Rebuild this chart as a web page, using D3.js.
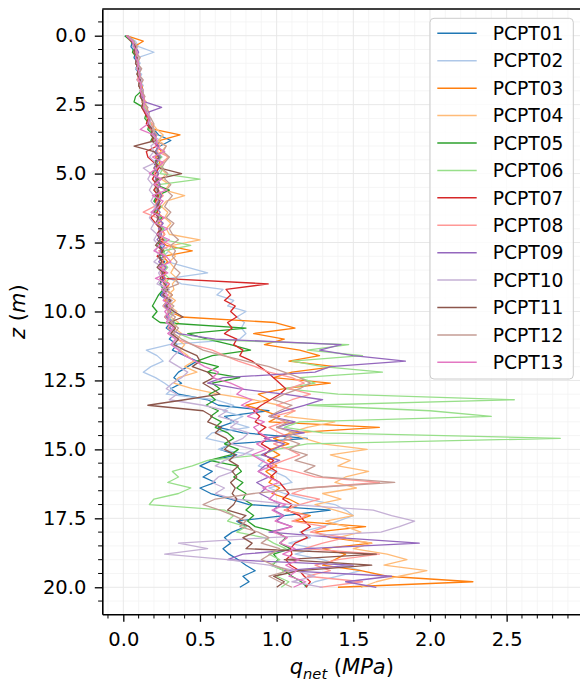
<!DOCTYPE html>
<html>
<head>
<meta charset="utf-8">
<script src="https://cdn.jsdelivr.net/npm/d3@7"></script>
<style>
  html, body { margin: 0; padding: 0; background: #fff; }
  svg { display: block; font-family: "DejaVu Sans", sans-serif; }
</style>
</head>
<body>
<svg id="chart" width="580" height="684"></svg>
<script>
// Depth of each reading (m), shared by all soundings
const depth = [0,0.2,0.4,0.6,0.8,1,1.2,1.4,1.6,1.8,2,2.2,2.4,2.6,2.8,3,3.2,3.4,3.6,3.8,
  4,4.2,4.4,4.6,4.8,5,5.2,5.4,5.6,5.8,6,6.2,6.4,6.6,6.8,7,7.2,7.4,7.6,7.8,
  8,8.2,8.4,8.6,8.8,9,9.2,9.4,9.6,9.8,10,10.2,10.4,10.6,10.8,11,11.2,11.4,11.6,11.8,
  12,12.2,12.4,12.6,12.8,13,13.2,13.4,13.6,13.8,14,14.2,14.4,14.6,14.8,15,15.2,15.4,15.6,15.8,
  16,16.2,16.4,16.6,16.8,17,17.2,17.4,17.6,17.8,18,18.2,18.4,18.6,18.8,19,19.2,19.4,19.6,19.8,20];

// Net cone resistance q_net (MPa) per sounding, one value per depth
const pcpt01 = [0.01,0.06,0.05,0.08,0.07,0.10,0.08,0.11,0.09,0.12,0.11,0.13,0.12,0.15,0.14,0.17,0.16,0.20,0.23,0.31,
  0.24,0.21,0.25,0.20,0.23,0.19,0.22,0.24,0.20,0.23,0.21,0.25,0.20,0.24,0.22,0.26,0.23,0.27,0.24,0.26,
  0.23,0.27,0.24,0.26,0.25,0.28,
  0.27,0.24,0.29,0.26,0.30,0.27,0.31,0.28,0.33,0.30,0.35,0.32,0.40,0.48,0.42,0.36,0.33,0.38,0.31,0.36,
  0.55,0.62,0.95,0.66,0.72,0.62,0.78,1.20,0.70,0.63,0.74,0.58,0.50,0.58,0.52,0.60,0.50,0.57,0.70,0.82,
  1.35,1.05,0.74,0.80,0.71,0.66,0.70,0.65,0.69,0.75,0.80,0.86,0.78,0.82,0.76];
const pcpt02 = [0.03,0.08,0.10,0.20,0.09,0.11,0.08,0.12,0.10,0.13,0.11,0.14,0.12,0.16,0.14,0.18,0.16,0.21,0.19,0.24,
  0.21,0.26,0.22,0.20,0.25,0.22,0.19,0.23,0.21,0.24,0.20,0.23,0.21,0.25,0.22,0.27,0.24,0.28,0.25,0.30,
  0.26,0.29,0.42,0.55,0.30,0.38,
  0.65,0.61,0.72,0.68,0.80,0.74,0.79,0.77,0.80,0.76,0.30,0.15,0.22,0.26,0.18,0.13,0.21,0.27,0.32,0.28,
  0.60,0.72,0.65,0.78,0.70,0.82,0.58,0.54,0.70,0.62,0.85,0.92,0.88,0.98,1.06,1.10,0.95,1.05,1.20,1.38,
  1.45,1.50,1.40,1.30,1.15,1.22,1.08,1.25,1.12,1.30,1.42,1.55,1.40,1.25,1.18];
const pcpt03 = [0.02,0.13,0.07,0.09,0.08,0.10,0.09,0.11,0.10,0.12,0.13,0.12,0.14,0.13,0.16,0.15,0.18,0.20,0.37,0.24,
  0.22,0.25,0.21,0.24,0.20,0.23,0.21,0.24,0.22,0.25,0.21,0.24,0.22,0.26,0.23,0.25,0.27,0.24,0.28,0.45,
  0.26,0.29,0.25,0.28,0.26,0.30,
  0.28,0.32,0.27,0.31,0.30,0.38,0.99,1.12,0.85,1.05,0.92,1.15,1.28,1.08,1.38,1.10,0.98,1.35,1.05,0.88,
  0.95,0.80,0.92,1.02,0.95,1.67,1.10,0.98,1.08,0.96,1.02,0.94,1.00,0.93,0.98,0.95,1.02,0.97,1.08,1.15,
  1.05,1.22,1.12,1.58,1.25,1.35,1.62,1.30,1.45,1.38,1.30,1.55,1.72,2.28,1.40];
const pcpt04 = [0.02,0.06,0.08,0.07,0.10,0.09,0.11,0.10,0.12,0.11,0.13,0.12,0.15,0.14,0.17,0.15,0.19,0.22,0.26,0.23,
  0.28,0.25,0.29,0.26,0.24,0.28,0.25,0.30,0.27,0.40,0.28,0.25,0.29,0.27,0.31,0.28,0.30,0.50,0.32,0.29,
  0.34,0.30,0.33,0.31,0.35,0.32,
  0.33,0.29,0.34,0.30,0.35,0.31,0.36,0.33,0.38,0.35,0.40,0.37,0.42,0.46,0.40,0.48,0.36,0.33,0.45,0.62,
  0.85,1.02,1.12,1.05,1.38,1.20,1.08,1.18,1.30,1.59,1.35,1.48,1.40,1.60,1.45,1.38,1.52,1.30,1.42,1.25,
  1.38,1.50,1.32,1.45,1.55,1.40,1.62,1.50,1.72,1.85,1.70,1.98,1.80,1.65,1.55];
const pcpt05 = [0.01,0.05,0.07,0.06,0.09,0.08,0.10,0.09,0.11,0.10,0.12,0.08,0.07,0.13,0.15,0.14,0.17,0.16,0.20,0.18,
  0.23,0.21,0.24,0.20,0.22,0.19,0.23,0.21,0.30,0.22,0.20,0.24,0.21,0.25,0.22,0.26,0.23,0.25,0.22,0.27,
  0.24,0.26,0.23,0.27,0.25,0.24,
  0.26,0.23,0.21,0.19,0.22,0.19,0.24,0.80,0.42,0.55,0.70,0.83,0.58,0.48,0.62,0.55,0.76,0.58,0.63,0.56,
  0.60,0.54,0.62,0.57,0.64,0.60,0.68,0.72,0.66,0.75,0.70,0.56,0.74,0.77,0.72,0.78,0.74,0.80,0.78,0.84,
  0.80,0.85,0.81,0.86,1.00,1.06,1.02,1.09,0.98,1.01,0.97,1.05,1.10,1.16,1.20];
const pcpt06 = [0.03,0.07,0.06,0.09,0.08,0.10,0.09,0.11,0.10,0.12,0.11,0.13,0.12,0.14,0.16,0.15,0.18,0.17,0.21,0.19,
  0.24,0.21,0.25,0.22,0.26,0.24,0.50,0.23,0.20,0.24,0.22,0.25,0.21,0.24,0.22,0.26,0.24,0.27,0.44,0.26,
  0.28,0.25,0.29,0.26,0.30,0.27,
  0.29,0.26,0.31,0.28,0.33,0.29,0.34,0.30,0.36,0.45,1.47,1.20,1.56,1.10,1.30,1.69,1.15,1.25,1.05,1.40,
  2.55,1.20,2.00,2.40,1.15,1.05,1.30,2.85,1.20,1.00,0.90,0.55,0.45,0.32,0.36,0.29,0.44,0.36,0.20,0.17,
  0.66,0.72,0.68,0.80,0.74,0.92,0.98,1.06,0.95,1.02,0.96,1.05,1.00,1.08,1.03];
const pcpt07 = [0.02,0.06,0.08,0.07,0.09,0.08,0.10,0.09,0.11,0.10,0.12,0.11,0.13,0.12,0.14,0.16,0.15,0.18,0.20,0.19,
  0.22,0.15,0.16,0.20,0.23,0.21,0.19,0.22,0.20,0.23,0.21,0.24,0.22,0.18,0.21,0.24,0.22,0.26,0.23,0.25,
  0.22,0.26,0.24,0.27,0.25,0.945,
  0.67,0.70,0.66,0.73,0.70,0.74,0.68,0.71,0.66,0.74,0.72,0.78,0.76,0.84,0.89,0.94,0.98,1.02,1.06,1.02,
  0.96,0.90,0.85,0.89,0.86,0.93,0.88,0.94,0.90,0.96,0.92,0.98,0.94,1.00,0.96,1.02,1.05,1.08,1.04,1.10,
  1.07,1.15,1.18,1.22,1.16,1.20,1.12,1.09,1.10,1.06,1.09,1.15,1.18,1.22,1.19];
const pcpt08 = [0.02,0.05,0.09,0.07,0.10,0.08,0.11,0.10,0.09,0.12,0.11,0.14,0.12,0.15,0.17,0.16,0.19,0.18,0.22,0.20,
  0.24,0.22,0.30,0.25,0.22,0.20,0.24,0.21,0.23,0.26,0.22,0.20,0.13,0.22,0.25,0.23,0.27,0.24,0.31,0.23,
  0.28,0.25,0.27,0.24,0.28,0.26,
  0.28,0.25,0.29,0.26,0.30,0.27,0.31,0.29,0.33,0.35,0.45,0.58,0.66,0.75,0.86,0.95,1.10,1.18,1.08,1.22,
  1.10,1.00,1.12,0.98,1.05,0.95,1.02,1.10,0.98,1.08,1.15,1.05,0.96,1.12,1.25,1.67,1.20,1.10,1.28,1.15,
  1.05,1.20,1.10,1.32,1.22,1.45,1.30,1.18,1.67,1.40,1.25,1.35,1.20,1.56,1.28];
const pcpt09 = [0.03,0.06,0.08,0.10,0.08,0.09,0.11,0.10,0.12,0.11,0.13,0.12,0.14,0.25,0.15,0.17,0.16,0.19,0.21,0.20,
  0.23,0.21,0.24,0.22,0.20,0.23,0.21,0.24,0.22,0.25,0.23,0.21,0.24,0.22,0.26,0.23,0.25,0.22,0.27,0.24,
  0.26,0.23,0.28,0.25,0.27,0.24,
  0.28,0.25,0.30,0.27,0.31,0.28,0.33,0.30,0.36,0.60,1.42,1.28,1.50,1.84,1.35,1.25,0.65,0.55,0.75,1.05,
  1.30,1.18,1.05,0.95,1.12,1.00,1.18,0.92,1.05,0.98,0.90,1.02,0.92,0.88,0.95,0.87,0.93,0.89,0.96,1.02,
  0.98,1.05,1.00,1.10,0.95,1.40,1.93,1.20,0.78,0.68,1.50,1.05,1.75,1.45,1.65];
const pcpt10 = [0.02,0.07,0.06,0.09,0.10,0.08,0.11,0.09,0.12,0.10,0.13,0.11,0.14,0.13,0.16,0.18,0.17,0.20,0.19,0.22,
  0.18,0.20,0.17,0.21,0.13,0.18,0.16,0.19,0.17,0.20,0.18,0.21,0.19,0.17,0.20,0.18,0.22,0.20,0.23,0.21,
  0.24,0.20,0.26,0.23,0.25,0.22,
  0.30,0.27,0.32,0.29,0.34,0.31,0.28,0.33,0.30,0.35,0.32,0.37,0.33,0.30,0.36,0.42,0.38,0.32,0.28,0.35,
  0.30,0.52,0.68,0.62,0.75,0.70,0.82,0.78,0.70,0.85,0.78,0.66,0.60,0.72,0.62,0.58,0.66,0.60,0.72,1.10,
  1.63,1.75,1.90,1.80,1.68,0.95,0.36,0.55,0.27,0.68,0.95,1.12,1.25,1.10,1.30];
const pcpt11 = [0.02,0.05,0.08,0.07,0.09,0.08,0.10,0.09,0.11,0.10,0.12,0.11,0.13,0.12,0.15,0.17,0.16,0.19,0.18,0.21,
  0.07,0.20,0.23,0.21,0.24,0.38,0.22,0.20,0.23,0.21,0.24,0.22,0.20,0.23,0.21,0.25,0.22,0.24,0.21,0.26,
  0.23,0.25,0.22,0.26,0.24,0.27,
  0.29,0.26,0.31,0.28,0.33,0.39,0.30,0.34,0.31,0.36,0.33,0.40,0.48,0.50,0.45,0.55,0.59,0.52,0.58,0.63,
  0.40,0.16,0.52,0.58,0.55,0.64,0.60,0.67,0.70,0.66,0.73,0.69,0.75,0.71,0.74,0.70,0.73,0.71,0.74,0.72,
  0.68,0.80,0.75,0.82,0.86,0.78,0.84,0.80,1.65,1.05,1.62,1.15,0.98,1.05,1.00];
const pcpt12 = [0.03,0.07,0.09,0.08,0.11,0.09,0.12,0.10,0.13,0.11,0.12,0.14,0.13,0.16,0.15,0.18,0.20,0.19,0.22,0.20,
  0.28,0.26,0.30,0.27,0.25,0.29,0.27,0.31,0.28,0.32,0.29,0.27,0.31,0.28,0.33,0.30,0.32,0.36,0.31,0.34,
  0.32,0.35,0.33,0.37,0.34,0.36,
  0.27,0.32,0.28,0.33,0.29,0.34,0.31,0.36,0.33,0.38,0.45,0.52,0.65,0.80,0.95,1.05,1.15,1.22,1.15,1.05,
  0.98,1.10,1.02,0.95,1.08,1.00,1.12,1.05,1.15,1.08,1.20,1.12,1.25,1.18,1.30,1.77,1.20,0.85,0.60,0.52,
  0.63,0.72,0.80,0.76,0.88,0.95,0.90,1.02,0.96,0.90,0.98,1.08,0.95,1.02,1.10];
const pcpt13 = [0.02,0.06,0.07,0.09,0.08,0.10,0.09,0.11,0.10,0.12,0.11,0.13,0.14,0.13,0.15,0.17,0.16,0.11,0.20,0.22,
  0.21,0.27,0.19,0.26,0.22,0.17,0.25,0.20,0.28,0.19,0.26,0.23,0.18,0.27,0.21,0.29,0.22,0.30,0.24,0.20,
  0.28,0.31,0.23,0.29,0.21,0.30,
  0.25,0.29,0.26,0.31,0.27,0.30,0.28,0.33,0.29,0.34,0.31,0.36,0.40,0.47,0.53,0.62,0.58,0.70,0.78,0.74,
  0.84,0.77,0.88,0.81,0.92,0.85,0.89,0.95,0.87,0.93,0.84,0.90,0.97,0.88,0.94,1.02,0.91,0.99,0.95,1.06,
  0.97,1.04,0.99,1.10,0.98,1.07,1.02,1.12,1.04,1.15,1.06,1.13,1.08,1.19,1.11];

const seriesNames = ["PCPT01","PCPT02","PCPT03","PCPT04","PCPT05","PCPT06","PCPT07",
                     "PCPT08","PCPT09","PCPT10","PCPT11","PCPT12","PCPT13"];
const seriesValues = [pcpt01,pcpt02,pcpt03,pcpt04,pcpt05,pcpt06,pcpt07,
                      pcpt08,pcpt09,pcpt10,pcpt11,pcpt12,pcpt13];
const seriesColors = ["#1f77b4","#aec7e8","#ff7f0e","#ffbb78","#2ca02c","#98df8a","#d62728",
                      "#ff9896","#9467bd","#c5b0d5","#8c564b","#c49c94","#e377c2"];

const xMajorTicks = [0, 0.5, 1.0, 1.5, 2.0, 2.5];
const yMajorTicks = [0, 2.5, 5.0, 7.5, 10.0, 12.5, 15.0, 17.5, 20.0];

// Plot frame
const plot = { left: 102.3, top: 9, right: 583.3, bottom: 614.3 };

const x = d3.scaleLinear().domain([-0.137, 3.0]).range([plot.left, plot.right]);
const y = d3.scaleLinear().domain([-0.968, 20.98]).range([plot.top, plot.bottom]);

const xMinor = d3.range(-1, 30).map(i => i / 10).filter(v => Math.abs(v * 2 - Math.round(v * 2)) > 1e-6);
const yMinor = d3.range(-1, 42).map(i => i / 2).filter(v => Math.abs(v / 2.5 - Math.round(v / 2.5)) > 1e-6);

const svg = d3.select("#chart");
svg.append("rect").attr("width", 580).attr("height", 684).attr("fill", "#fff");

svg.append("defs").append("clipPath").attr("id", "plotclip")
  .append("rect")
  .attr("x", plot.left).attr("y", plot.top)
  .attr("width", plot.right - plot.left).attr("height", plot.bottom - plot.top);

// Grid: minor first, then major
const grid = svg.append("g");
grid.selectAll("line.vx-minor").data(xMinor).join("line")
  .attr("x1", d => x(d)).attr("x2", d => x(d))
  .attr("y1", plot.top).attr("y2", plot.bottom)
  .attr("stroke", "#f2f2f2").attr("stroke-width", 0.8);
grid.selectAll("line.hy-minor").data(yMinor).join("line")
  .attr("y1", d => y(d)).attr("y2", d => y(d))
  .attr("x1", plot.left).attr("x2", plot.right)
  .attr("stroke", "#f2f2f2").attr("stroke-width", 0.8);
grid.selectAll("line.vx-major").data(xMajorTicks.concat([3.0])).join("line")
  .attr("x1", d => x(d)).attr("x2", d => x(d))
  .attr("y1", plot.top).attr("y2", plot.bottom)
  .attr("stroke", "#e8e8e8").attr("stroke-width", 1);
grid.selectAll("line.hy-major").data(yMajorTicks).join("line")
  .attr("y1", d => y(d)).attr("y2", d => y(d))
  .attr("x1", plot.left).attr("x2", plot.right)
  .attr("stroke", "#e8e8e8").attr("stroke-width", 1);

// Sounding profiles
const line = d3.line()
  .x(d => x(d.q))
  .y(d => y(d.z));

const lines = svg.append("g").attr("clip-path", "url(#plotclip)");
seriesValues.forEach((vals, k) => {
  const pts = vals.map((q, i) => ({ z: depth[i], q: q }));
  lines.append("path")
    .datum(pts)
    .attr("d", line)
    .attr("fill", "none")
    .attr("stroke", seriesColors[k])
    .attr("stroke-width", 1.3)
    .attr("stroke-linejoin", "round");
});

// Axes
const fontSize = 19.5;
const yAxis = svg.append("g").attr("transform", `translate(${plot.left},0)`)
  .call(d3.axisLeft(y).tickValues(yMajorTicks).tickFormat(d3.format(".1f"))
    .tickSize(7.5).tickSizeOuter(0).tickPadding(8.5));
yAxis.append("g").selectAll("line").data(yMinor).join("line")
  .attr("x1", -4.2).attr("x2", 0).attr("y1", d => y(d)).attr("y2", d => y(d))
  .attr("stroke", "#000").attr("stroke-width", 1);

const xAxis = svg.append("g").attr("transform", `translate(0,${plot.bottom})`)
  .call(d3.axisBottom(x).tickValues(xMajorTicks).tickFormat(d3.format(".1f"))
    .tickSize(7.5).tickSizeOuter(0).tickPadding(10));
xAxis.append("g").selectAll("line").data(xMinor).join("line")
  .attr("x1", d => x(d)).attr("x2", d => x(d)).attr("y1", 0).attr("y2", 4.2)
  .attr("stroke", "#000").attr("stroke-width", 1);

[yAxis, xAxis].forEach(a => {
  a.selectAll("text").attr("font-size", fontSize).attr("font-family", "DejaVu Sans").attr("fill", "#000");
  a.selectAll(".tick line").attr("stroke", "#000").attr("stroke-width", 1.3);
  a.select(".domain").attr("stroke", "#000").attr("stroke-width", 1.6);
});

// Top spine
svg.append("line")
  .attr("x1", plot.left).attr("x2", plot.right)
  .attr("y1", plot.top).attr("y2", plot.top)
  .attr("stroke", "#000").attr("stroke-width", 1.6);

// Axis titles
const yTitle = svg.append("text")
  .attr("transform", `translate(18,${(plot.top + plot.bottom) / 2}) rotate(-90)`)
  .attr("text-anchor", "middle").attr("dy", "0.35em")
  .attr("font-size", 21);
yTitle.append("tspan").attr("font-style", "italic").text("z");
yTitle.append("tspan").text("\u00a0(");
yTitle.append("tspan").attr("font-style", "italic").text("m");
yTitle.append("tspan").text(")");

const xTitle = svg.append("text")
  .attr("x", (plot.left + plot.right) / 2 - 1).attr("y", 674)
  .attr("text-anchor", "middle")
  .attr("font-size", 21);
xTitle.append("tspan").attr("font-style", "italic").text("q");
xTitle.append("tspan").attr("font-style", "italic").attr("font-size", 14.7).attr("dy", 4.5).text("net");
xTitle.append("tspan").attr("dy", -4.5).text("\u00a0(");
xTitle.append("tspan").attr("font-style", "italic").text("MPa");
xTitle.append("tspan").text(")");

// Legend
const legend = svg.append("g");
const lg = { x: 430, y: 18.3, w: 143.3, h: 360.7, row0: 33.3, step: 27.42 };
legend.append("rect")
  .attr("x", lg.x).attr("y", lg.y).attr("width", lg.w).attr("height", lg.h)
  .attr("rx", 4).attr("ry", 4)
  .attr("fill", "#fff").attr("fill-opacity", 0.8)
  .attr("stroke", "#cccccc").attr("stroke-width", 1);
seriesNames.forEach((name, k) => {
  const cy = lg.row0 + k * lg.step;
  legend.append("line")
    .attr("x1", 437.3).attr("x2", 476.7).attr("y1", cy).attr("y2", cy)
    .attr("stroke", seriesColors[k]).attr("stroke-width", 1.5);
  legend.append("text")
    .attr("x", 492.7).attr("y", cy).attr("dy", "0.36em")
    .attr("font-size", 18.7).attr("fill", "#000")
    .text(name);
});
</script>
</body>
</html>
